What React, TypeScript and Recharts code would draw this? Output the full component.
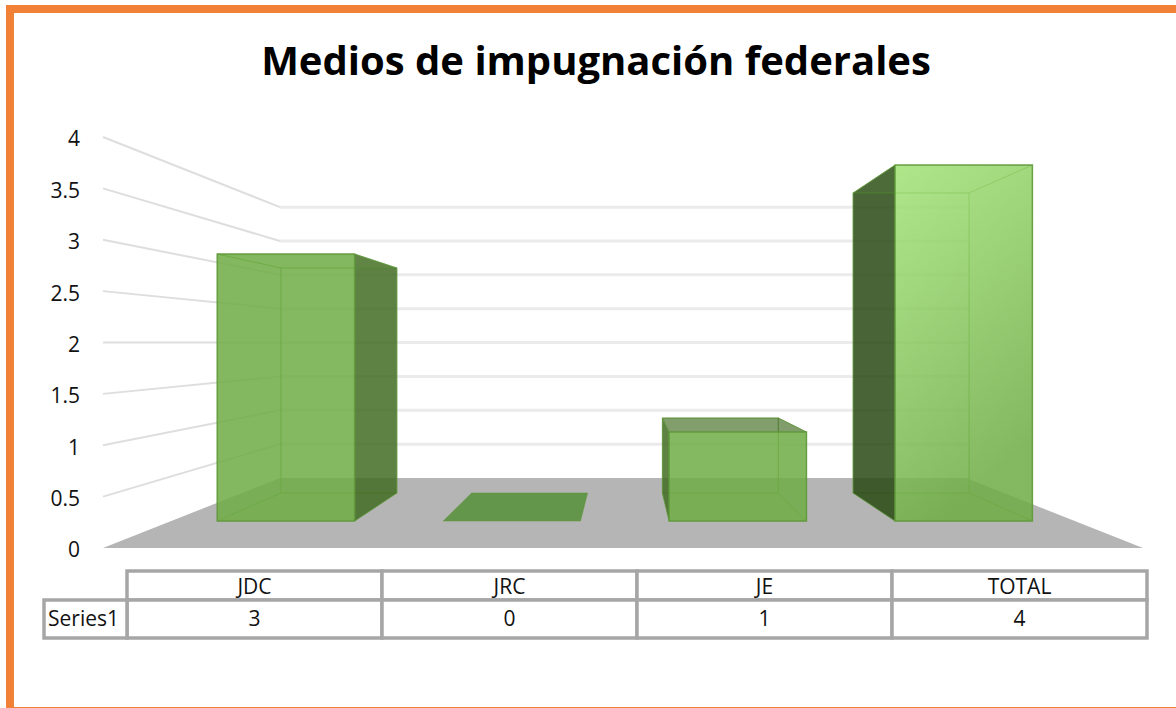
import React from 'react'
import { BarChart, Bar, CartesianGrid, XAxis, YAxis } from 'recharts'

const categories = ['JDC', 'JRC', 'JE', 'TOTAL']
const values = [3, 0, 1, 4]
const yTicks = [0, 0.5, 1, 1.5, 2, 2.5, 3, 3.5, 4]
const seriesName = 'Series1'

const data = categories.map((name, i) => ({ name, value: values[i] }))

const FONT = '"Open Sans", sans-serif'
const W = 1176
const H = 708
const PLOT_TOP = 137
const PLOT_BOTTOM = 548
const PLOT_LEFT = 127
const PLOT_RIGHT = 1147
const CELL = (PLOT_RIGHT - PLOT_LEFT) / categories.length
const GREEN = '#70AD47'
const DARK = '#436c24'
const EDGE = '#5f9a3a'

// 3d projection of the flat chart: front and back plane of the bars
const frontX = (px: number) => 285.5 + 0.886 * (px - 254)
const backX = (px: number) => 338.5 + 0.748 * (px - 254)
const frontY = (h: number) => 521 - h * 0.866
const backY = (h: number) => 493 - h * 0.73
const wallY = (h: number) => 478 - h * 0.659

const pts = (list: number[][]) => list.map((p) => p.join(',')).join(' ')

const Box = (props: any) => {
  const { x, width, height, index } = props
  const fl = frontX(x)
  const fr = frontX(x + width)
  const bl = backX(x)
  const br = backX(x + width)
  const ft = frontY(height)
  const bt = backY(height)
  const fb = frontY(0)
  const bb = backY(0)
  const isLast = index === categories.length - 1
  const flat = height < 1
  return (
    <g>
      <polygon
        points={pts([[fl, fb], [fr, fb], [br, bb], [bl, bb]])}
        fill={flat ? '#5f9445' : GREEN}
        fillOpacity={flat ? 0.95 : 0.15}
        stroke={EDGE}
        strokeOpacity={0.5}
      />
      {!flat && (
        <>
          <rect x={bl} y={bt} width={br - bl} height={bb - bt} fill={GREEN} fillOpacity={0.05} stroke={EDGE} strokeOpacity={0.6} />
          <polygon
            points={pts([[fl, ft], [bl, bt], [bl, bb], [fl, fb]])}
            fill={bl < fl ? (isLast ? '#2a4a15' : DARK) : GREEN}
            fillOpacity={bl < fl ? 0.85 : 0.08}
            stroke={EDGE}
            strokeOpacity={0.6}
          />
          <polygon
            points={pts([[fr, ft], [br, bt], [br, bb], [fr, fb]])}
            fill={br > fr ? DARK : GREEN}
            fillOpacity={br > fr ? 0.85 : 0.08}
            stroke={EDGE}
            strokeOpacity={0.6}
          />
          <polygon
            points={pts([[fl, ft], [fr, ft], [br, bt], [bl, bt]])}
            fill={bt < ft ? DARK : GREEN}
            fillOpacity={bt < ft ? 0.65 : 0.08}
            stroke={EDGE}
            strokeOpacity={0.6}
          />
          <rect
            x={fl}
            y={ft}
            width={fr - fl}
            height={fb - ft}
            fill={isLast ? 'url(#totalFront)' : GREEN}
            fillOpacity={0.85}
            stroke={EDGE}
            strokeWidth={1.5}
            strokeOpacity={0.85}
          />
        </>
      )}
    </g>
  )
}

const GridLine = (props: any) => {
  const { y1 } = props
  const h = PLOT_BOTTOM - y1
  if (h < 1) {
    return (
      <polygon
        key="floor"
        points={pts([[103, PLOT_BOTTOM], [1143, PLOT_BOTTOM], [966, wallY(0)], [280, wallY(0)]])}
        fill="#b5b5b5"
      />
    )
  }
  return (
    <g key={props.key ?? y1}>
      <line x1={103} y1={y1} x2={280} y2={wallY(h)} stroke="#dedede" strokeWidth={2} />
      <line x1={280} y1={wallY(h)} x2={968} y2={wallY(h)} stroke="#ebebeb" strokeWidth={3} />
    </g>
  )
}

// data table under the chart, one column per category tick
const TableTick = (props: any) => {
  const { x, payload, index } = props
  const textStyle = { fontFamily: FONT, fontSize: 21, fill: '#111' }
  const cx = x
  const left = cx - CELL / 2
  return (
    <g>
      <rect x={left} y={571} width={CELL} height={29} fill="#fff" stroke="#a6a6a6" strokeWidth={3.5} />
      <rect x={left} y={600} width={CELL} height={38} fill="#fff" stroke="#a6a6a6" strokeWidth={3.5} />
      <text x={cx} y={586} textAnchor="middle" dominantBaseline="central" style={textStyle}>
        {payload.value}
      </text>
      <text x={cx} y={618} textAnchor="middle" dominantBaseline="central" style={textStyle}>
        {values[index]}
      </text>
      {index === 0 && (
        <>
          <rect x={44} y={600} width={left - 44} height={38} fill="#fff" stroke="#a6a6a6" strokeWidth={3.5} />
          <text x={(44 + left) / 2 - 2} y={618} textAnchor="middle" dominantBaseline="central" style={textStyle}>
            {seriesName}
          </text>
        </>
      )}
    </g>
  )
}

export default function App() {
  return (
    <div style={{ position: 'absolute', left: 0, top: 0, width: W, height: H, background: '#fff', overflow: 'hidden' }}>
      <div style={{ position: 'absolute', left: 6, top: 5, right: 0, height: 8, background: '#f08136' }} />
      <div style={{ position: 'absolute', left: 6, top: 5, bottom: 0, width: 8, background: '#f08136' }} />
      <div style={{ position: 'absolute', left: 6, bottom: 0, right: 0, height: 1, background: '#f08136' }} />
      <div
        style={{
          position: 'absolute',
          left: 0,
          width: W,
          top: 32,
          textAlign: 'center',
          paddingLeft: 16,
          boxSizing: 'border-box',
          fontFamily: FONT,
          fontWeight: 700,
          fontSize: 40,
          lineHeight: '56px',
          color: '#000',
        }}
      >
        Medios de impugnación federales
      </div>
      <BarChart
        width={W}
        height={H}
        data={data}
        margin={{ top: PLOT_TOP, left: 0, right: W - PLOT_RIGHT, bottom: 60 }}
        style={{ position: 'absolute', left: 0, top: 0 }}
      >
        <defs>
          <linearGradient id="totalFront" x1="0" y1="0" x2="0.35" y2="1">
            <stop offset="0%" stopColor="#a3e379" />
            <stop offset="100%" stopColor={GREEN} />
          </linearGradient>
        </defs>
        <CartesianGrid vertical={false} horizontal={GridLine as any} />
        <XAxis
          dataKey="name"
          height={H - PLOT_BOTTOM - 60}
          axisLine={false}
          tickLine={false}
          interval={0}
          tick={TableTick as any}
        />
        <YAxis
          width={PLOT_LEFT}
          domain={[0, 4]}
          ticks={yTicks}
          axisLine={false}
          tickLine={false}
          tickSize={0}
          tickMargin={47}
          interval={0}
          tick={{ fontFamily: FONT, fontSize: 21, fill: '#111', dy: 2 }}
        />
        <Bar dataKey="value" barSize={155} shape={Box as any} isAnimationActive={false} />
      </BarChart>
    </div>
  )
}
